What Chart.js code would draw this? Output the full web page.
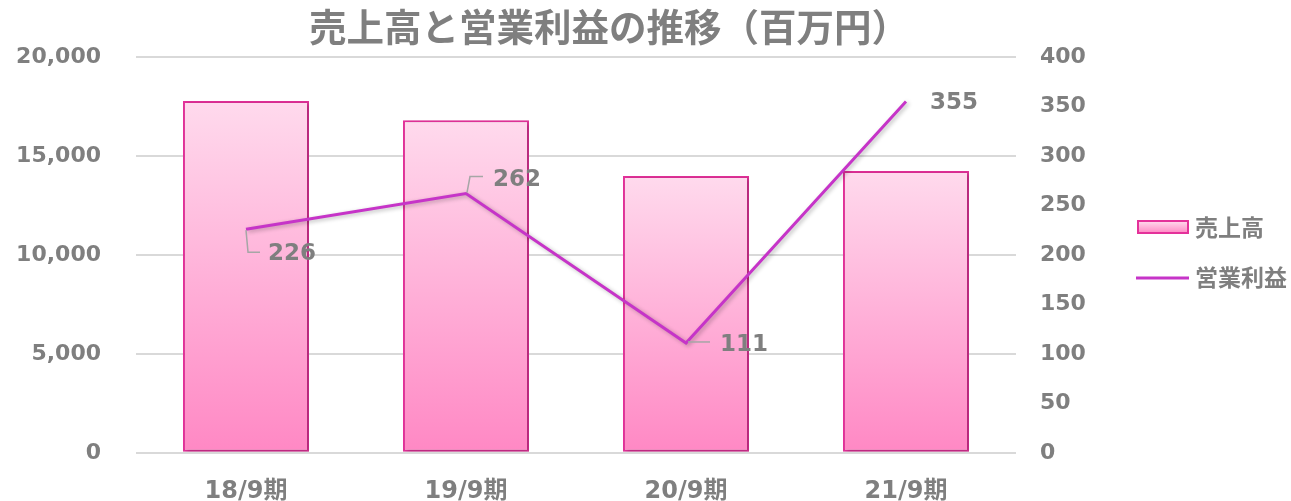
<!DOCTYPE html>
<html><head><meta charset="utf-8">
<script src="https://cdn.jsdelivr.net/npm/chart.js@4.4.0/dist/chart.umd.min.js"></script>
<style>html,body{margin:0;padding:0;background:#fff;overflow:hidden}</style>
</head><body>
<canvas id="c" width="1291" height="501" style="width:1291px;height:501px;display:block"></canvas>
<script>
// ---- data ----
const titleText = '売上高と営業利益の推移（百万円）';
const categories = ['18/9期', '19/9期', '20/9期', '21/9期'];
const salesLabel = '売上高';
const profitLabel = '営業利益';
const sales = [17780, 16810, 13990, 14240];
const profit = [226, 262, 111, 355];
const leftAxis = { min: 0, max: 20000, step: 5000 };
const rightAxis = { min: 0, max: 400, step: 50 };

// ---- styles ----
const GRAY = '#7f7f7f';
const NUM_FONT = "'DejaVu Sans', 'Noto Sans CJK JP', sans-serif";
const CJK_FONT = "'Noto Sans CJK JP', 'DejaVu Sans', sans-serif";
const BAR_TOP = '#ffdaed';
const BAR_BOTTOM = '#ff88c4';
const BAR_BORDER = '#e4319a';
const LINE_COLOR = '#c634c8';
// label placement relative to the point: [dx, dy, leader path relative to point]
const labelPlacement = [
  { dx: 22, dy: 25, leader: [[0, 1], [2, 23], [14, 23]] },
  { dx: 27, dy: -14, leader: [[1, -1], [4, -17], [17, -17]] },
  { dx: 34, dy: 2, leader: [[2, -1], [24, -1]] },
  { dx: 24, dy: 2, leader: null }
];

function barGradient(ctx, top, bottom) {
  const g = ctx.createLinearGradient(0, top, 0, bottom);
  g.addColorStop(0, BAR_TOP);
  g.addColorStop(1, BAR_BOTTOM);
  return g;
}

const shadowPlugin = {
  id: 'shadow',
  beforeDatasetDraw(chart, args) {
    const ctx = chart.ctx;
    ctx.save();
    ctx.shadowColor = 'rgba(0,0,0,0.28)';
    ctx.shadowBlur = 4;
    ctx.shadowOffsetX = 2;
    ctx.shadowOffsetY = 1.5;
  },
  afterDatasetDraw(chart) { chart.ctx.restore(); }
};

const labelPlugin = {
  id: 'lineLabels',
  afterDatasetsDraw(chart) {
    const ctx = chart.ctx;
    const meta = chart.getDatasetMeta(1);
    ctx.save();
    meta.data.forEach((pt, i) => {
      const p = labelPlacement[i];
      if (p.leader) {
        ctx.beginPath();
        ctx.strokeStyle = '#a6a6a6';
        ctx.lineWidth = 1.5;
        p.leader.forEach((q, k) => {
          const x = pt.x + q[0], y = pt.y + q[1];
          if (k === 0) ctx.moveTo(x, y); else ctx.lineTo(x, y);
        });
        ctx.stroke();
      }
      ctx.fillStyle = GRAY;
      ctx.font = "bold 23px " + NUM_FONT;
      ctx.textAlign = 'left';
      ctx.textBaseline = 'middle';
      ctx.fillText(String(profit[i]), pt.x + p.dx, pt.y + p.dy);
    });
    ctx.restore();
  }
};

const legendPlugin = {
  id: 'customLegend',
  afterDraw(chart) {
    const ctx = chart.ctx;
    ctx.save();
    const bx = 1138, by = 221, bw = 50, bh = 12;
    ctx.fillStyle = barGradient(ctx, by, by + bh);
    ctx.fillRect(bx, by, bw, bh);
    ctx.strokeStyle = BAR_BORDER;
    ctx.lineWidth = 2;
    ctx.strokeRect(bx, by, bw, bh);
    ctx.beginPath();
    ctx.strokeStyle = LINE_COLOR;
    ctx.lineWidth = 3;
    ctx.moveTo(1136, 278);
    ctx.lineTo(1189, 278);
    ctx.stroke();
    ctx.fillStyle = GRAY;
    ctx.font = "bold 23px " + CJK_FONT;
    ctx.textAlign = 'left';
    ctx.textBaseline = 'middle';
    ctx.fillText(salesLabel, 1195, 227);
    ctx.fillText(profitLabel, 1195, 277);
    ctx.restore();
  }
};

new Chart(document.getElementById('c'), {
  data: {
    labels: categories,
    datasets: [
      {
        type: 'bar',
        label: salesLabel,
        data: sales,
        yAxisID: 'y',
        order: 2,
        barPercentage: 0.573,
        categoryPercentage: 1,
        borderColor: BAR_BORDER,
        borderWidth: 2,
        borderSkipped: false,
        backgroundColor(c) {
          const chart = c.chart;
          if (!chart.chartArea || c.raw == null) return BAR_BOTTOM;
          const ys = chart.scales.y;
          return barGradient(chart.ctx, ys.getPixelForValue(c.raw), ys.getPixelForValue(0));
        }
      },
      {
        type: 'line',
        label: profitLabel,
        data: profit,
        yAxisID: 'y2',
        order: 1,
        borderColor: LINE_COLOR,
        borderWidth: 3,
        pointRadius: 0,
        tension: 0,
        fill: false
      }
    ]
  },
  options: {
    responsive: false,
    animation: false,
    devicePixelRatio: 1,
    layout: { padding: { left: 0, right: 73, top: 0, bottom: 0 } },
    plugins: {
      legend: { display: false },
      tooltip: { enabled: false },
      title: {
        display: true,
        text: titleText,
        color: GRAY,
        font: { family: CJK_FONT, size: 37.5, weight: 'bold', lineHeight: 1.2 },
        padding: { top: 4, bottom: 8 }
      }
    },
    scales: {
      x: {
        grid: { display: false, drawTicks: false },
        border: { display: false },
        ticks: { color: GRAY, font: { family: NUM_FONT, size: 24, weight: 'bold' }, padding: 25, maxRotation: 0 },
        afterFit(s) { s.height = 48; }
      },
      y: {
        position: 'left',
        min: leftAxis.min, max: leftAxis.max,
        grid: { color: '#d9d9d9', lineWidth: 2, drawTicks: false },
        border: { display: false },
        ticks: {
          stepSize: leftAxis.step, color: GRAY, padding: 35,
          font: { family: NUM_FONT, size: 22, weight: 'bold' },
          callback: v => v.toLocaleString('en-US')
        },
        afterFit(s) { s.width = 136; }
      },
      y2: {
        position: 'right',
        min: rightAxis.min, max: rightAxis.max,
        grid: { display: false, drawTicks: false },
        border: { display: false },
        ticks: {
          stepSize: rightAxis.step, color: GRAY, padding: 24,
          font: { family: NUM_FONT, size: 22, weight: 'bold' }
        },
        afterFit(s) { s.width = 202; }
      }
    }
  },
  plugins: [shadowPlugin, labelPlugin, legendPlugin]
});
</script>
</body></html>
